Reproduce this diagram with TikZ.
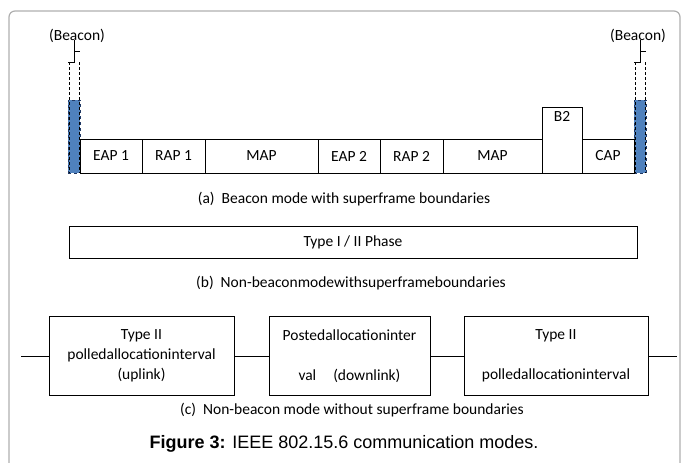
\documentclass[tikz,border=0pt]{standalone}
\usepackage{fontspec}
\setmainfont{Carlito}
\newfontfamily\capfont{Liberation Sans}
\usetikzlibrary{positioning}
\definecolor{BeaconBlue}{RGB}{79,129,189}
\definecolor{BeaconEdge}{RGB}{31,56,100}
\definecolor{FrameGray}{RGB}{175,175,175}

\begin{document}
\begin{tikzpicture}[
  x=1pt, y=-1pt,
  every node/.style={font=\fontsize{15.5}{18}\selectfont, outer sep=0pt},
  slot/.style={
    rectangle, draw=black, line width=0.9pt,
    minimum height=34pt, inner sep=0pt
  },
  beacon/.style={
    rectangle, draw=BeaconEdge, fill=BeaconBlue, dashed,
    line width=0.8pt, minimum width=12pt, minimum height=73pt, inner sep=0pt
  },
  guide/.style={draw=black, line width=0.6pt, dash pattern=on 3pt off 2pt},
  brace/.style={draw=black, line width=0.7pt},
  phase/.style={
    rectangle, draw=black, line width=0.8pt,
    minimum width=568pt, minimum height=32pt, inner sep=0pt
  },
  ival/.style={
    rectangle, draw=black, line width=0.8pt,
    minimum height=79pt, inner sep=0pt, align=center,
    font=\fontsize{15.5}{20}\selectfont
  },
  conn/.style={draw=black, line width=0.8pt},
  frame/.style={draw=FrameGray, line width=1.2pt, rounded corners=6pt}
]
\useasboundingbox (0,0) rectangle (683,463);

%% Outer frame
\draw[frame] (9,463) -- (9,11) -- (680,11) -- (680,463);

%% (a) Beacon mode -- beacons
\node[beacon, anchor=south west] (bcl) at (68,173) {};
\node[beacon, anchor=south west] (bcr) at (634,173) {};
\draw[guide] (69,62) -- (69,173);
\draw[guide] (79,62) -- (79,173);
\draw[guide] (635,62) -- (635,173);
\draw[guide] (645,62) -- (645,173);
\draw[brace] (68,62) -- (74,62) -- (74,40);
\draw[brace] (74,51) -- (80,51);
\draw[brace] (634,62) -- (640,62) -- (640,40);
\draw[brace] (640,51) -- (646,51);
\node (bll) at (77,36) {(Beacon)};
\node (blr) at (638,36) {(Beacon)};

%% (a) superframe slots
\node[slot, minimum width=62pt, anchor=south west] (eap1) at (80,173) {EAP 1};
\node[slot, minimum width=63pt, right=0pt of eap1] (rap1) {RAP 1};
\node[slot, minimum width=113pt, right=0pt of rap1] (map1) {MAP};
\node[slot, minimum width=62pt, right=0pt of map1] (eap2) {EAP 2};
\node[slot, minimum width=63pt, right=0pt of eap2] (rap2) {RAP 2};
\node[slot, minimum width=99pt, right=0pt of rap2] (map2) {MAP};
\node[slot, minimum width=40pt, minimum height=66pt, anchor=south west] (b2) at (map2.south east) {};
\node[below=1pt of b2.north] (b2t) {B2};
\node[slot, minimum width=52pt, right=0pt of map2, xshift=40pt] (cap) {CAP};

\node (capa) at (344,199) {(a)\ \ Beacon mode with superframe boundaries};

%% (b) Non-beacon mode with boundaries
\node[phase] (ph) at (353,242) {Type I / II Phase};
\node (capb) at (351,283) {(b)\ \ Non-beaconmodewithsuperframeboundaries};

%% (c) Non-beacon mode without boundaries
\node[ival, minimum width=185pt] (p1) at (141.5,356) {Type II\\polledallocationinterval\\(uplink)};
\node[ival, minimum width=161pt] (p2) at (349.5,356) {Postedallocationinter\\[20pt]val\hspace{17pt}(downlink)};
\node[ival, minimum width=184pt] (p3) at (556,356) {Type II\\[20pt]polledallocationinterval};
\coordinate (cin) at (21,356);
\coordinate (cout) at (677,356);

\draw[conn] (cin) -- (p1);
\draw[conn] (p1) -- (p2);
\draw[conn] (p2) -- (p3);
\draw[conn] (p3) -- (cout);

\node (capc) at (352,410) {(c)\ \ Non-beacon mode without superframe boundaries};

%% Figure caption
\node[font=\capfont\fontsize{18}{20}\selectfont] (fig) at (344,444)
  {\textbf{Figure 3:} IEEE 802.15.6 communication modes.};

\end{tikzpicture}
\end{document}
